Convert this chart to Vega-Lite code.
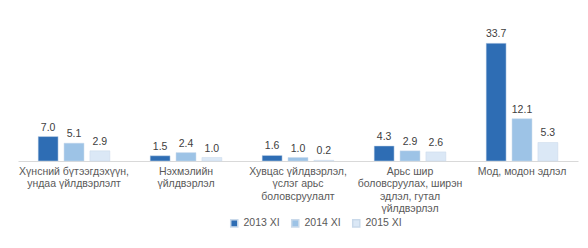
{
  "$schema": "https://vega.github.io/schema/vega-lite/v6.json",
  "width": 560,
  "height": 124,
  "padding": {"left": 18, "top": 29, "right": 10, "bottom": 5},
  "background": "white",
  "config": {
    "view": {"stroke": null},
    "font": "Liberation Sans"
  },
  "data": {
    "values": [
      {"cat": "Хүнсний бүтээгдэхүүн,|ундаа үйлдвэрлэлт", "year": "2013 XI", "v": 7.0},
      {"cat": "Хүнсний бүтээгдэхүүн,|ундаа үйлдвэрлэлт", "year": "2014 XI", "v": 5.1},
      {"cat": "Хүнсний бүтээгдэхүүн,|ундаа үйлдвэрлэлт", "year": "2015 XI", "v": 2.9},
      {"cat": "Нэхмэлийн|үйлдвэрлэл", "year": "2013 XI", "v": 1.5},
      {"cat": "Нэхмэлийн|үйлдвэрлэл", "year": "2014 XI", "v": 2.4},
      {"cat": "Нэхмэлийн|үйлдвэрлэл", "year": "2015 XI", "v": 1.0},
      {"cat": "Хувцас үйлдвэрлэл,|үслэг арьс|боловсруулалт", "year": "2013 XI", "v": 1.6},
      {"cat": "Хувцас үйлдвэрлэл,|үслэг арьс|боловсруулалт", "year": "2014 XI", "v": 1.0},
      {"cat": "Хувцас үйлдвэрлэл,|үслэг арьс|боловсруулалт", "year": "2015 XI", "v": 0.2},
      {"cat": "Арьс шир|боловсруулах, ширэн|эдлэл, гутал|үйлдвэрлэл", "year": "2013 XI", "v": 4.3},
      {"cat": "Арьс шир|боловсруулах, ширэн|эдлэл, гутал|үйлдвэрлэл", "year": "2014 XI", "v": 2.9},
      {"cat": "Арьс шир|боловсруулах, ширэн|эдлэл, гутал|үйлдвэрлэл", "year": "2015 XI", "v": 2.6},
      {"cat": "Мод,  модон эдлэл", "year": "2013 XI", "v": 33.7},
      {"cat": "Мод,  модон эдлэл", "year": "2014 XI", "v": 12.1},
      {"cat": "Мод,  модон эдлэл", "year": "2015 XI", "v": 5.3}
    ]
  },
  "encoding": {
    "x": {
      "field": "cat", "type": "nominal", "sort": null, "title": null,
      "scale": {"paddingInner": 0.36, "paddingOuter": 0.18},
      "axis": {
        "labelAngle": 0, "labelExpr": "split(datum.label, '|')",
        "labelFontSize": 10.5, "labelColor": "#595959", "labelLineHeight": 12.5,
        "labelPadding": 5, "ticks": false, "domainColor": "#d9d9d9",
        "labelLimit": 200
      }
    },
    "xOffset": {"field": "year", "type": "nominal", "scale": {"paddingInner": 0.23}},
    "y": {"field": "v", "type": "quantitative", "scale": {"domain": [0, 35.5]}, "axis": null}
  },
  "layer": [
    {
      "mark": {"type": "bar", "stroke": "#c9d9ea", "strokeWidth": 0.5},
      "encoding": {
        "color": {
          "field": "year", "type": "nominal", "title": null,
          "scale": {"range": ["#2e6db4", "#9dc3e6", "#dbe8f6"]},
          "legend": {
            "orient": "none", "legendX": 211, "legendY": 181,
            "direction": "horizontal", "symbolType": "square",
            "symbolSize": 50, "labelFontSize": 10.5, "labelColor": "#595959",
            "columnPadding": 8
          }
        }
      }
    },
    {
      "mark": {"type": "text", "dy": -9, "fontSize": 10.5, "color": "#404040"},
      "encoding": {"text": {"field": "v", "type": "quantitative", "format": ".1f"}}
    }
  ]
}
